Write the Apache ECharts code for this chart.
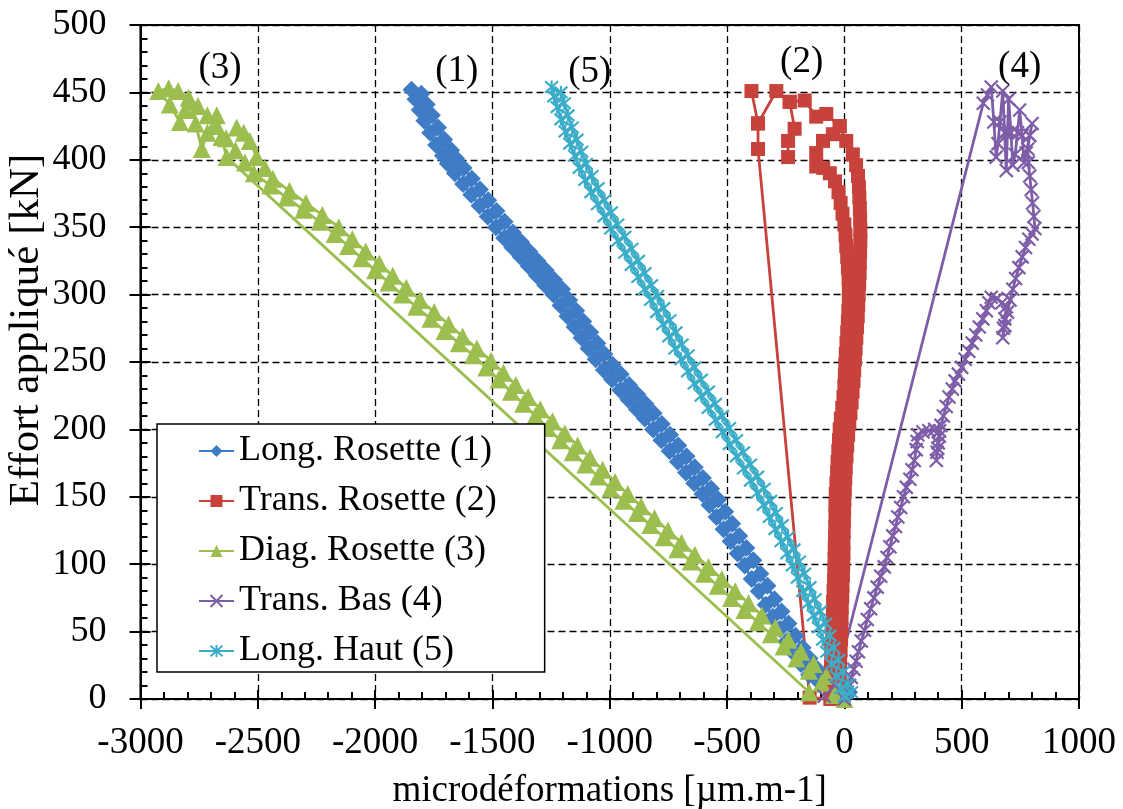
<!DOCTYPE html>
<html><head><meta charset="utf-8">
<script src="https://cdn.jsdelivr.net/npm/echarts@6/dist/echarts.min.js"></script>
<style>html,body{margin:0;padding:0;background:#fff}#c{width:1123px;height:809px}</style>
</head><body><div id="c"></div>
<script>
const seriesNames = ['Long. Rosette (1)', 'Trans. Rosette (2)', 'Diag. Rosette (3)', 'Trans. Bas (4)', 'Long. Haut (5)'];
const seriesColors = ['#3E7CC6', '#C8423C', '#9BBE4F', '#7E5DA8', '#3BADC8'];

// (1) Long. Rosette : loading then unloading [strain, load]
const longRosetteUp = [[5,2],[-30,5],[-70,9],[-110,13],[-150,18],[-185,26],[-215,34],[-245,43],[-275,52],[-305,61],[-335,70],[-365,80],[-395,89],[-425,99],[-455,108],[-485,117],[-515,126],[-545,135],[-575,144],[-605,152],[-640,160],[-675,168],[-710,176],[-745,184],[-780,192],[-815,200],[-850,208],[-885,215],[-920,222],[-955,229],[-990,237],[-1025,244],[-1060,252],[-1090,260],[-1120,268],[-1150,276],[-1180,284],[-1210,292],[-1240,300],[-1275,307],[-1310,314],[-1345,321],[-1380,328],[-1415,335],[-1450,342],[-1485,350],[-1520,358],[-1555,366],[-1590,374],[-1625,382],[-1660,390],[-1690,397],[-1711,403],[-1740,411],[-1765,420],[-1790,429],[-1810,437],[-1828,445],[-1845,452]];
const longRosetteDown = [[-1803,449],[-1780,441],[-1758,433],[-1732,424],[-1706,415],[-1676,407],[-1655,401],[-1623,394],[-1588,386],[-1553,378],[-1518,370],[-1483,362],[-1448,354],[-1413,346],[-1378,339],[-1343,332],[-1308,325],[-1273,318],[-1238,311],[-1203,304],[-1173,296],[-1143,288],[-1113,280],[-1083,272],[-1053,264],[-1023,256],[-988,248],[-953,241],[-918,233],[-883,226],[-848,219],[-813,212],[-778,204],[-743,196],[-708,188],[-673,180],[-638,172],[-603,164],[-568,156],[-538,148],[-508,139],[-478,130],[-448,121],[-418,112],[-388,103],[-358,93],[-328,84],[-298,74],[-268,65],[-238,56],[-208,47],[-178,38],[-148,30],[-115,22],[-78,17],[-40,13],[-2,9],[20,5]];

// (2) Trans. Rosette
const transRosetteBand = [[-50,2],[-60,8],[-59,16],[-57,24],[-56,32],[-54,40],[-52,48],[-51,56],[-49,64],[-48,72],[-46,80],[-44,88],[-43,96],[-42,104],[-41,112],[-40,120],[-39,128],[-38,136],[-38,144],[-37,152],[-34,160],[-31,168],[-29,176],[-26,184],[-23,192],[-20,200],[-15,208],[-9,216],[-4,224],[0,232],[2,240],[4,248],[6,256],[9,264],[12,272],[15,280],[17,288],[19,296],[19,304],[18,312],[15,320],[12,328],[8,336],[5,344],[0,352],[-8,360],[-16,368],[-25,376],[-40,384],[-62,390],[-90,394],[-120,395],[-120,405],[-91,414],[-49,419],[-20,425],[8,414],[36,404],[50,396],[58,388],[62,380],[64,372],[66,364],[67,356],[68,348],[68,340],[67,332],[66,324],[65,316],[63,308],[61,300],[59,292],[57,284],[54,276],[51,268],[48,260],[45,252],[42,244],[39,236],[35,228],[31,220],[26,212],[21,204],[16,196],[12,188],[9,180],[6,172],[4,164],[2,156],[0,148],[-1,140],[-2,132],[-3,124],[-4,116],[-4,108],[-5,100],[-6,92],[-8,84],[-9,76],[-11,68],[-12,60],[-13,52],[-14,44],[-16,36],[-18,28],[-20,20],[-22,12],[-25,5],[-30,0]];
const transRosetteTop = [[-20,425],[-77,434],[-120,432],[-169,444],[-233,443],[-290,451],[-368,427],[-396,451],[-368,427],[-368,408],[-148,1],[-60,0]];
const transRosetteChain = [[-233,443],[-212,423],[-240,414],[-240,402]];

// (3) Diag. Rosette
const diagRosetteA = [[0,0],[-43,3],[-97,12],[-151,21],[-205,30],[-259,39],[-313,48],[-369,57],[-426,66],[-483,75],[-540,84],[-598,93],[-655,102],[-712,111],[-770,120],[-827,129],[-884,138],[-942,147],[-997,156],[-1050,165],[-1104,174],[-1158,183],[-1211,192],[-1265,201],[-1317,210],[-1369,219],[-1421,228],[-1474,237],[-1526,246],[-1583,255],[-1643,264],[-1704,273],[-1764,282],[-1825,291],[-1885,300],[-1943,309],[-2000,318],[-2058,327],[-2115,336],[-2173,345],[-2236,354],[-2306,363],[-2377,372],[-2447,381],[-2517,390]];
const diagRosetteTop = [[-2555,398],[-2595,407],[-2635,416],[-2675,425],[-2715,433],[-2755,440],[-2795,446],[-2840,451],[-2880,453],[-2924,451],[-2875,441],[-2832,428],[-2810,437],[-2789,443],[-2765,427],[-2739,408],[-2715,420],[-2675,433],[-2655,417],[-2633,402],[-150,5]];
const diagRosetteB = [[-23,8],[-77,17],[-131,26],[-185,35],[-239,44],[-294,53],[-351,62],[-408,71],[-465,80],[-522,89],[-579,98],[-637,107],[-694,116],[-752,125],[-809,134],[-866,143],[-923,152],[-977,161],[-1030,170],[-1084,179],[-1137,188],[-1191,197],[-1244,206],[-1296,215],[-1348,224],[-1400,233],[-1453,242],[-1506,251],[-1566,260],[-1627,269],[-1687,278],[-1748,287],[-1808,296],[-1867,305],[-1925,314],[-1982,323],[-2040,332],[-2097,341],[-2155,350],[-2225,359],[-2295,368],[-2365,377],[-2436,386],[-2470,394],[-2505,402],[-2534,414],[-2560,420],[-2590,424]];

// (4) Trans. Bas
const transBas = [[0,0],[12,5],[22,10],[30,16],[40,22],[50,28],[60,35],[72,43],[86,51],[98,59],[112,67],[126,75],[140,83],[155,91],[170,98],[182,105],[194,113],[206,121],[218,128],[228,135],[240,142],[252,150],[264,157],[279,163],[288,170],[298,177],[306,185],[310,191],[313,196],[335,198],[360,199],[385,200],[406,199],[400,190],[395,183],[392,177],[398,186],[405,195],[412,203],[422,210],[434,217],[446,224],[460,230],[472,236],[486,241],[500,246],[515,252],[530,258],[545,264],[560,270],[575,276],[590,282],[605,288],[616,294],[626,298],[650,297],[672,294],[690,291],[684,282],[678,275],[675,268],[684,277],[695,287],[706,296],[718,304],[730,312],[744,320],[758,328],[772,335],[786,341],[800,345],[812,349],[808,358],[802,368],[796,378],[790,388],[784,398],[782,408],[790,418],[800,427],[790,418],[775,405],[766,398],[758,418],[747,437],[738,420],[728,404],[718,396],[710,420],[700,445],[695,420],[690,392],[683,420],[675,451],[663,428],[655,412],[647,402],[637,428],[626,454],[610,448],[592,442],[-40,10],[-86,2]];

// (5) Long. Haut
const longHautUp = [[0,2],[-15,8],[-35,17],[-55,26],[-75,35],[-92,44],[-110,53],[-132,62],[-155,71],[-177,80],[-200,90],[-222,99],[-245,108],[-270,117],[-295,126],[-320,135],[-345,144],[-372,153],[-400,162],[-430,171],[-460,180],[-490,189],[-520,198],[-550,207],[-580,216],[-610,225],[-640,234],[-668,243],[-696,252],[-722,260],[-748,269],[-774,278],[-800,287],[-826,296],[-852,304],[-880,313],[-908,322],[-936,331],[-966,340],[-996,349],[-1024,358],[-1052,367],[-1080,376],[-1106,385],[-1130,394],[-1150,403],[-1170,412],[-1190,421],[-1208,430],[-1224,439],[-1238,447],[-1248,454]];
const longHautDown = [[-1208,450],[-1194,442],[-1178,433],[-1160,424],[-1140,415],[-1120,406],[-1100,397],[-1076,388],[-1050,379],[-1022,370],[-994,361],[-966,352],[-936,343],[-906,334],[-878,325],[-850,316],[-822,307],[-796,299],[-770,290],[-744,281],[-718,272],[-692,263],[-666,255],[-638,246],[-610,237],[-580,228],[-550,219],[-520,210],[-490,201],[-460,192],[-430,183],[-400,174],[-370,165],[-342,156],[-315,147],[-290,138],[-265,129],[-240,120],[-215,111],[-192,102],[-170,93],[-147,83],[-125,74],[-102,65],[-80,56],[-62,47],[-45,38],[-25,29],[-5,20],[15,11],[30,5]];

// curve labels [strain, load, text]
const curveLabels = [[-2661,468,'(3)'],[-1652,466,'(1)'],[-1085,465,'(5)'],[-182,472,'(2)'],[747,469,'(4)']];

const xMin = -3000, xMax = 1000, xStep = 500;
const yMin = 0, yMax = 500, yStep = 50;

const FONT = 'Liberation Serif';
const SYM_X = 'path://M0,0L10,10M10,0L0,10';
const SYM_STAR = 'path://M5,0L5,10M0.6,0.6L9.4,9.4M9.4,0.6L0.6,9.4';

function curve(idx, symbol, size, data, stroke) {
  const c = seriesColors[idx];
  return {
    type: 'line', name: seriesNames[idx], data: data,
    xAxisIndex: 0, yAxisIndex: 0,
    symbol: symbol, symbolSize: size, showSymbol: true,
    lineStyle: { color: c, width: 2.8 },
    itemStyle: { color: c, borderColor: c, borderWidth: stroke ? 2.2 : 0 },
    emphasis: { disabled: true },
    animation: false
  };
}

const chart = echarts.init(document.getElementById('c'), null, { renderer: 'canvas' });

const plainNum = v => String(v);
const option = {
  animation: false,
  backgroundColor: '#fff',
  grid: { left: 140.5, right: 44, top: 25, bottom: 110, containLabel: false, outerBoundsMode: 'none', show: true, borderColor: '#000', borderWidth: 2, backgroundColor: 'transparent' },
  legend: {
    data: seriesNames,
    orient: 'vertical', left: 157, top: 424,
    itemWidth: 35, itemHeight: 15, itemGap: 10,
    padding: [7, 48, 1, 41],
    backgroundColor: '#fff', borderColor: '#000', borderWidth: 1.5,
    textStyle: { fontFamily: FONT, fontSize: 36, color: '#000', lineHeight: 40 },
    selectedMode: false
  },
  xAxis: [
    {
      type: 'value', min: xMin, max: xMax, interval: xStep, position: 'bottom',
      name: 'microdéformations [µm.m-1]', nameLocation: 'middle', nameGap: 74, nameMoveOverlap: false,
      nameTextStyle: { fontFamily: FONT, fontSize: 37, color: '#000' },
      axisLine: { onZero: false, lineStyle: { color: '#000', width: 2 } },
      axisTick: { show: true, inside: false, length: 10, lineStyle: { color: '#000', width: 2 } },
      axisLabel: { fontFamily: FONT, fontSize: 37, color: '#000', margin: 26, formatter: plainNum },
      splitLine: { show: true, lineStyle: { color: '#000', width: 1.3, type: [7, 4] } }
    },
    {
      type: 'value', min: xMin, max: xMax, interval: xStep, position: 'bottom',
      axisLine: { show: false, onZero: false },
      axisTick: { show: true, inside: true, length: 9, lineStyle: { color: '#000', width: 2 } },
      minorTick: { show: true, splitNumber: 5, length: 7, lineStyle: { color: '#000', width: 2 } },
      axisLabel: { show: false }, splitLine: { show: false }
    }
  ],
  yAxis: [
    {
      type: 'value', min: yMin, max: yMax, interval: yStep, position: 'left',
      name: 'Effort appliqué [kN]', nameLocation: 'middle', nameGap: 92, nameMoveOverlap: false,
      nameTextStyle: { fontFamily: FONT, fontSize: 43, color: '#000', padding: [0, 0, 0, 64] },
      axisLine: { onZero: false, lineStyle: { color: '#000', width: 2 } },
      axisTick: { show: true, inside: false, length: 11, lineStyle: { color: '#000', width: 2 } },
      axisLabel: { fontFamily: FONT, fontSize: 36, color: '#000', margin: 34, formatter: plainNum },
      splitLine: { show: true, lineStyle: { color: '#000', width: 1.3, type: [7, 4] } }
    },
    {
      type: 'value', min: yMin, max: yMax, interval: yStep, position: 'left',
      axisLine: { show: false, onZero: false },
      axisTick: { show: true, inside: true, length: 10, lineStyle: { color: '#000', width: 2 } },
      minorTick: { show: true, splitNumber: 5, length: 7, lineStyle: { color: '#000', width: 2 } },
      axisLabel: { show: false }, splitLine: { show: false }
    }
  ],
  series: [
    curve(0, 'diamond', 18, longRosetteUp.concat(longRosetteDown), false),
    curve(1, 'rect', 14, transRosetteBand, false),
    curve(1, 'rect', 14, transRosetteTop, false),
    curve(1, 'rect', 14, transRosetteChain, false),
    curve(2, 'triangle', 18, diagRosetteA.concat(diagRosetteTop, diagRosetteB), false),
    curve(3, SYM_X, 13, transBas, true),
    curve(4, SYM_STAR, 13, longHautUp.concat(longHautDown), true),
    {
      type: 'scatter', name: 'labels', xAxisIndex: 0, yAxisIndex: 0,
      symbolSize: 1, itemStyle: { color: 'rgba(0,0,0,0)', opacity: 1 },
      data: curveLabels.map(a => ({ value: [a[0], a[1]], name: a[2] })),
      label: { show: true, position: 'inside', formatter: '{b}', fontFamily: FONT, fontSize: 37, color: '#000', opacity: 1 },
      emphasis: { disabled: true }, silent: true, animation: false, z: 5
    }
  ]
};
chart.setOption(option);
</script>
</body></html>
